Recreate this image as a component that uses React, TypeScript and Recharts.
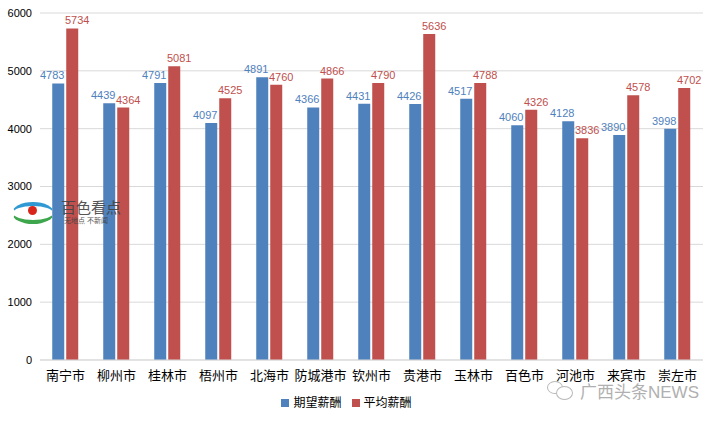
import React from 'react';
import { BarChart, Bar, XAxis, YAxis, CartesianGrid, Legend, LabelList } from 'recharts';

const cities = ['南宁市', '柳州市', '桂林市', '梧州市', '北海市', '防城港市', '钦州市', '贵港市', '玉林市', '百色市', '河池市', '来宾市', '崇左市'];
const expected = [4783, 4439, 4791, 4097, 4891, 4366, 4431, 4426, 4517, 4060, 4128, 3890, 3998];
const average = [5734, 4364, 5081, 4525, 4760, 4866, 4790, 5636, 4788, 4326, 3836, 4578, 4702];
const yTicks = [0, 1000, 2000, 3000, 4000, 5000, 6000];

const data = cities.map((city, i) => ({ city, expected: expected[i], average: average[i] }));

const FONT = '"Liberation Sans", "Noto Sans CJK SC", sans-serif';
const order: Record<string, number> = { expected: 0, average: 1 };

const App = () => {
  return (
    <div style={{ position: 'absolute', left: 0, top: 0, width: 716, height: 422, background: '#fff', fontFamily: FONT }}>
      <BarChart
        width={716}
        height={422}
        data={data}
        margin={{ top: 13, right: 13, left: 0, bottom: 0 }}
        barCategoryGap="24%"
        barGap={2}
      >
        <CartesianGrid vertical={false} stroke="#d9d9d9" />
        <XAxis
          dataKey="city"
          height={30}
          tickLine={false}
          axisLine={{ stroke: '#d9d9d9' }}
          tick={{ fontSize: 13, fill: '#000', fontFamily: FONT, dy: 3 }}
          interval={0}
        />
        <YAxis
          width={40}
          domain={[0, 6000]}
          ticks={yTicks}
          axisLine={false}
          tickLine={false}
          tick={{ fontSize: 11, fill: '#000', fontFamily: FONT }}
        />
        <Legend
          verticalAlign="bottom"
          height={32}
          iconType="square"
          iconSize={8}
          itemSorter={(item: any) => order[item.dataKey] ?? 0}
          wrapperStyle={{ top: 393 }}
          formatter={(value) => <span style={{ color: '#000', fontSize: 12 }}>{value}</span>}
        />
        <Bar dataKey="expected" name="期望薪酬" fill="#4f81bd" isAnimationActive={false}>
          <LabelList dataKey="expected" position="top" offset={4} dx={-6} style={{ fontSize: 11, fill: '#4f81bd', fontFamily: FONT }} />
        </Bar>
        <Bar dataKey="average" name="平均薪酬" fill="#c0504d" isAnimationActive={false}>
          <LabelList dataKey="average" position="top" offset={4} dx={5} style={{ fontSize: 11, fill: '#c0504d', fontFamily: FONT }} />
        </Bar>
      </BarChart>
      <div style={{ position: 'absolute', left: 12, top: 202, width: 40, height: 14, borderRadius: '50%', borderTop: '4px solid #1a8fd0', borderBottom: '4px solid #2a9d3a', borderLeft: '1px solid transparent', borderRight: '1px solid transparent', opacity: 0.9 }} />
      <div style={{ position: 'absolute', left: 28, top: 206, width: 9, height: 9, borderRadius: '50%', background: '#d9261c' }} />
      <div style={{ position: 'absolute', left: 61, top: 196, fontSize: 15, color: '#444', opacity: 0.9 }}>百色看点</div>
      <div style={{ position: 'absolute', left: 64, top: 215, fontSize: 7, color: '#444', opacity: 0.9 }}>无地点 不新闻</div>
      <div style={{ position: 'absolute', left: 547, top: 381, width: 14, height: 11, borderRadius: '50%', border: '1px solid #b8b8b8' }} />
      <div style={{ position: 'absolute', left: 556, top: 386, width: 15, height: 12, borderRadius: '50%', border: '1px solid #b8b8b8', background: '#fff' }} />
      <div style={{ position: 'absolute', left: 580, top: 378, fontSize: 17, color: '#b0b0b0' }}>广西头条NEWS</div>
    </div>
  );
};

export default App;
